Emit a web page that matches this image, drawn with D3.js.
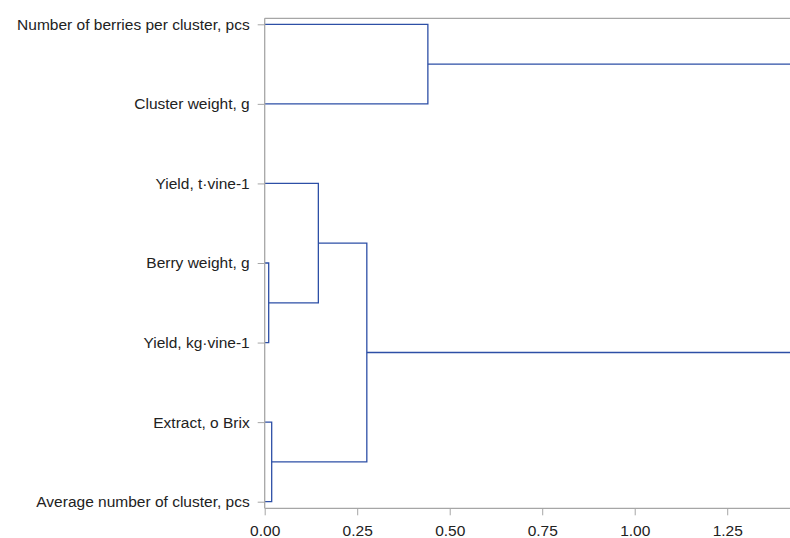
<!DOCTYPE html>
<html><head><meta charset="utf-8">
<script src="https://cdn.jsdelivr.net/npm/d3@7"></script>
<style>body{margin:0;background:#fff}svg{display:block}</style>
</head><body>
<script>
const labels = ["Number of berries per cluster, pcs","Cluster weight, g","Yield, t\u00b7vine-1","Berry weight, g","Yield, kg\u00b7vine-1","Extract, o Brix","Average number of cluster, pcs"];
// linkage rows: [clusterA, clusterB, height]; leaves 0..6, merged clusters 7..
const linkA = [3, 5, 2, 9, 0, 11];
const linkB = [4, 6, 7, 8, 1, 10];
const linkH = [0.0108, 0.0189, 0.145, 0.276, 0.441, 1.60];
const xTicks = [0, 0.25, 0.5, 0.75, 1.0, 1.25];

const W = 790, H = 538;
const mL = 264.7, mR = 790, mT = 18.3, mB = 508.3;
const svg = d3.select("body").append("svg").attr("width", W).attr("height", H);

const x = d3.scaleLinear().domain([0, 1.4197]).range([mL, mR]);
const y = d3.scalePoint().domain(labels).range([24.3, 501.7]);

const lineColor = "#2d4fa6", axisColor = "#a6a6a6";
const font = "Liberation Sans, Arial, sans-serif";

// frame
svg.append("line").attr("x1", mL).attr("x2", mR).attr("y1", mT).attr("y2", mT)
  .attr("stroke", axisColor).attr("stroke-width", 1.3);

// cluster positions
const pos = labels.map(l => ({x: x(0), y: y(l)}));
const g = svg.append("g").attr("fill", "none").attr("stroke", lineColor).attr("stroke-width", 1.3);
linkA.forEach((a, i) => {
  const b = linkB[i], h = x(linkH[i]);
  const pa = pos[a], pb = pos[b];
  g.append("path").attr("d", `M${pa.x},${pa.y}H${h}V${pb.y}H${pb.x}`);
  pos.push({x: h, y: (pa.y + pb.y) / 2});
});

// y axis
const yAxis = svg.append("g").attr("transform", `translate(${mL},0)`)
  .call(d3.axisLeft(y).tickSize(7).tickPadding(8));
yAxis.select(".domain").attr("d", `M0,${mT}V${mB}`).attr("stroke", axisColor).attr("stroke-width", 1.3);
yAxis.selectAll(".tick line").attr("stroke", axisColor);
yAxis.selectAll("text").attr("font-family", font).attr("font-size", 15.5).attr("fill", "#222");

// x axis
const xAxis = svg.append("g").attr("transform", `translate(0,${mB})`)
  .call(d3.axisBottom(x).tickValues(xTicks).tickFormat(d3.format(".2f")).tickSize(7).tickPadding(10));
xAxis.select(".domain").attr("d", `M${mL},0H${mR}`).attr("stroke", axisColor).attr("stroke-width", 1.3);
xAxis.selectAll(".tick line").attr("stroke", axisColor);
xAxis.selectAll("text").attr("font-family", font).attr("font-size", 15.5).attr("fill", "#222");
</script>
</body></html>
